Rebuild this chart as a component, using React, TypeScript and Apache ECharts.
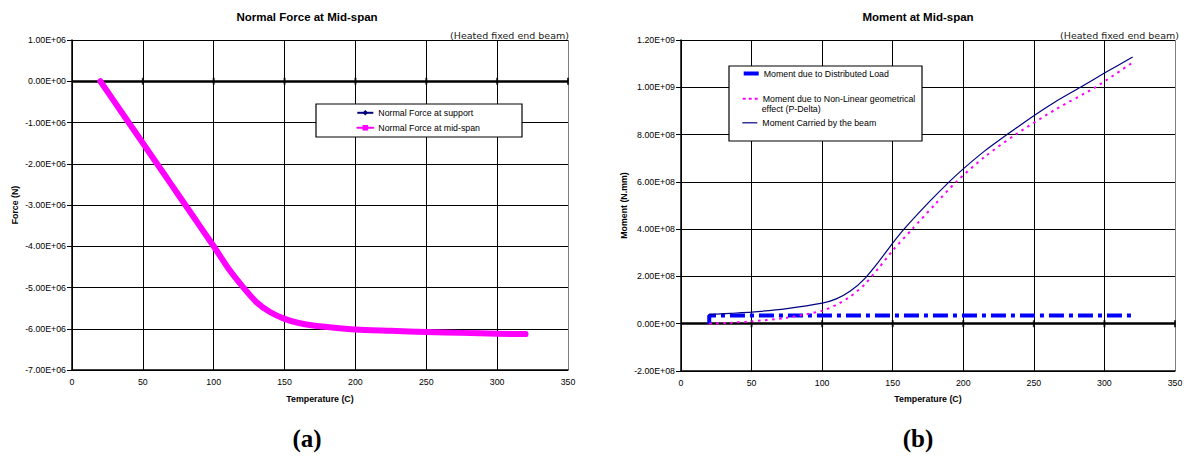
import React, { useEffect, useRef } from 'react';
import * as echarts from 'echarts';

const FONT = '"Liberation Sans", Arial, sans-serif';

// ---- axes ----
const tempAxis = { min: 0, max: 350, interval: 50 };
const forceAxis = { min: -7e6, max: 1e6, interval: 1e6 };
const momentAxis = { min: -2e8, max: 1.2e9, interval: 2e8 };
const zeroLineTicks = [50, 100, 150, 200, 250, 300, 350];

// ---- chart (a): Normal force ----
const SUP = 'Normal Force at support';
const MID = 'Normal Force at mid-span';
const forceTemps = [20, 30, 40, 50, 60, 70, 80, 90, 100, 110, 120, 130, 140, 150, 160, 170, 180, 200, 225, 250, 275, 300, 320];
const forceMidSpan = [0, -0.5e6, -1.0e6, -1.5e6, -2.0e6, -2.5e6, -3.0e6, -3.5e6, -4.0e6, -4.52e6, -4.96e6, -5.35e6, -5.6e6, -5.76e6, -5.86e6, -5.92e6, -5.96e6, -6.02e6, -6.05e6, -6.08e6, -6.1e6, -6.12e6, -6.13e6];
const forceSupport = [0, -0.5e6, -1.0e6, -1.5e6, -2.0e6, -2.5e6, -3.0e6, -3.5e6, -4.0e6, -4.52e6, -4.96e6, -5.35e6, -5.6e6, -5.76e6, -5.86e6, -5.92e6, -5.96e6, -6.02e6, -6.05e6, -6.08e6, -6.1e6, -6.12e6, -6.13e6];

// ---- chart (b): Moment ----
const DIST = 'Moment due to Distributed Load';
const PD = 'Moment due to Non-Linear geometrical effect (P-Delta)';
const BEAM = 'Moment Carried by the beam';
const distTemps = [20, 20, 320];
const distMoment = [0, 3.5e7, 3.5e7];
const pdTemps = [20, 35, 50, 75, 100, 110, 120, 130, 140, 150, 163.8, 180, 195, 215, 237, 265, 293.5, 320];
const pdMoment = [0, 0.04e8, 0.1e8, 0.25e8, 0.55e8, 0.8e8, 1.15e8, 1.65e8, 2.35e8, 3.1e8, 4.0e8, 5.05e8, 6.0e8, 7.05e8, 8.0e8, 9.05e8, 10.0e8, 11.05e8];
const beamTemps = [20, 35, 50, 75, 100, 110, 120, 130, 140, 150, 158, 175, 190, 200, 215, 231, 250, 265, 283, 300, 320];
const beamMoment = [0.39e8, 0.44e8, 0.49e8, 0.64e8, 0.87e8, 1.05e8, 1.38e8, 1.9e8, 2.62e8, 3.41e8, 4.0e8, 5.1e8, 6.0e8, 6.55e8, 7.3e8, 8.0e8, 8.8e8, 9.38e8, 10.0e8, 10.6e8, 11.28e8];

function sci(v: number): string {
  if (v === 0) return '0.00E+00';
  const e = Math.floor(Math.log10(Math.abs(v)) + 1e-9);
  const m = v / Math.pow(10, e);
  return m.toFixed(2) + 'E' + (e < 0 ? '-' : '+') + String(Math.abs(e)).padStart(2, '0');
}

const zip = (xs: number[], ys: number[]) => xs.map((x, i) => [x, ys[i]]);

export default function App() {
  const ref = useRef<HTMLDivElement>(null);
  useEffect(() => {
    const chart = echarts.init(ref.current!, null, { renderer: 'svg' });
    const lab = { color: '#000', fontSize: 8.8, fontFamily: FONT };
    const boldLab = { ...lab, fontWeight: 'bold' };
    const mkX = (gi: number, gap: number) => ({
      type: 'value', gridIndex: gi, ...tempAxis,
      name: 'Temperature (C)', nameLocation: 'middle', nameGap: gap, nameTextStyle: boldLab,
      axisLine: { show: true, onZero: false, lineStyle: { color: '#000', width: 1.5 } },
      axisTick: { show: false },
      axisLabel: { ...lab, margin: 7 },
      splitLine: { show: true, lineStyle: { color: ['#000', '#000', '#000', '#000', '#000', '#000', '#000', '#808080'], width: 1 } },
    });
    const mkY = (gi: number, ax: any, name: string) => ({
      type: 'value', gridIndex: gi, ...ax,
      name, nameLocation: 'middle', nameGap: 53, nameTextStyle: boldLab,
      axisLine: { show: true, onZero: false, lineStyle: { color: '#000', width: 1.5 } },
      axisTick: { show: true, length: 5, lineStyle: { color: '#000', width: 1 } },
      axisLabel: { ...lab, margin: 6, formatter: sci },
      splitLine: { show: true, lineStyle: { color: '#000', width: 1 } },
    });
    const zeroSeries = (gi: number) => ({
      type: 'scatter', name: 'zero' + gi, xAxisIndex: gi, yAxisIndex: gi,
      data: zeroLineTicks.map((x) => [x, 0]), symbol: 'rect', symbolSize: [2, 7],
      itemStyle: { color: '#000' }, silent: true, z: 1,
      markLine: {
        silent: true, symbol: ['none', 'none'], label: { show: false }, z: 1,
        lineStyle: { color: '#000', width: 2.5, type: 'solid' },
        data: [{ yAxis: 0 }],
      },
    });
    const legTxt = { ...lab };
    const option: any = {
      animation: false,
      backgroundColor: '#fff',
      grid: [
        { left: 72, top: 40, width: 496, height: 330, show: false },
        { left: 681, top: 40, width: 494, height: 331, show: false },
      ],
      xAxis: [mkX(0, 24), mkX(1, 23)],
      yAxis: [mkY(0, forceAxis, 'Force (N)'), mkY(1, momentAxis, 'Moment (N.mm)')],
      legend: [
        {
          data: [{ name: SUP }, { name: MID }], left: 356.3, top: 108.3, orient: 'vertical',
          itemGap: 6, itemWidth: 16, itemHeight: 7, padding: 0, textStyle: legTxt, selectedMode: false, z: 8,
        },
        {
          data: [{ name: DIST, itemStyle: { opacity: 0 }, lineStyle: { color: '#0000ff', width: 4, type: 'solid' } }],
          left: 741.7, top: 69, itemWidth: 15, itemHeight: 10,
          padding: 0, textStyle: legTxt, selectedMode: false, z: 8,
        },
        {
          data: [{ name: PD, itemStyle: { opacity: 0 }, lineStyle: { color: '#ff00ff', width: 2, type: [3, 3] } }],
          left: 741.7, top: 94.3, itemWidth: 15, itemHeight: 10,
          padding: 0, textStyle: legTxt, selectedMode: false, z: 8,
          formatter: () => 'Moment due to Non-Linear geometrical',
        },
        {
          data: [{ name: BEAM, itemStyle: { opacity: 0 }, lineStyle: { color: '#000080', width: 1.2, type: 'solid' } }],
          left: 741.7, top: 118.3, itemWidth: 15, itemHeight: 10,
          padding: 0, textStyle: legTxt, selectedMode: false, z: 8,
        },
      ],
      series: [
        zeroSeries(0),
        {
          type: 'line', name: SUP, xAxisIndex: 0, yAxisIndex: 0, data: zip(forceTemps, forceSupport),
          symbol: 'diamond', symbolSize: 5, showSymbol: false, smooth: 0.25,
          itemStyle: { color: '#000080' }, lineStyle: { color: '#000080', width: 1 }, z: 2,
        },
        {
          type: 'line', name: MID, xAxisIndex: 0, yAxisIndex: 0, data: zip(forceTemps, forceMidSpan),
          symbol: 'rect', symbolSize: 5, showSymbol: false, smooth: 0.25,
          itemStyle: { color: '#ff00ff' }, lineStyle: { color: '#ff00ff', width: 6, cap: 'round', join: 'round' }, z: 3,
        },
        zeroSeries(1),
        {
          type: 'line', name: DIST, xAxisIndex: 1, yAxisIndex: 1, data: zip(distTemps, distMoment),
          symbol: 'none', itemStyle: { color: '#0000ff' },
          lineStyle: { color: '#0000ff', width: 4, type: [15, 5, 4, 5] }, z: 3,
        },
        {
          type: 'line', name: PD, xAxisIndex: 1, yAxisIndex: 1, data: zip(pdTemps, pdMoment),
          symbol: 'none', smooth: 0.25, itemStyle: { color: '#ff00ff' },
          lineStyle: { color: '#ff00ff', width: 2, type: [2.5, 4.5] }, z: 3,
        },
        {
          type: 'line', name: BEAM, xAxisIndex: 1, yAxisIndex: 1, data: zip(beamTemps, beamMoment),
          symbol: 'none', smooth: 0.25, itemStyle: { color: '#000080' },
          lineStyle: { color: '#000080', width: 1.2 }, z: 4,
        },
      ],
      graphic: [
        { type: 'rect', z: 5, shape: { x: 316, y: 104, width: 206, height: 33 }, style: { fill: '#fff', stroke: '#000', lineWidth: 1.2 } },
        { type: 'rect', z: 5, shape: { x: 729, y: 66, width: 193, height: 75 }, style: { fill: '#fff', stroke: '#000', lineWidth: 1.2 } },
        { type: 'text', z: 9, x: 761.7, y: 109.3, style: { text: 'effect (P-Delta)', fill: '#000', fontSize: 8.8, fontFamily: FONT, align: 'left', verticalAlign: 'middle' } },
        { type: 'text', z: 9, x: 307, y: 17, style: { text: 'Normal Force at Mid-span', fill: '#000', fontSize: 11.5, fontWeight: 'bold', fontFamily: FONT, align: 'center', verticalAlign: 'middle' } },
        { type: 'text', z: 9, x: 918, y: 17, style: { text: 'Moment at Mid-span', fill: '#000', fontSize: 11.5, fontWeight: 'bold', fontFamily: FONT, align: 'center', verticalAlign: 'middle' } },
        { type: 'text', z: 9, x: 569, y: 35, style: { text: '(Heated fixed end beam)', fill: '#222', fontSize: 9.5, fontFamily: '"DejaVu Sans", sans-serif', align: 'right', verticalAlign: 'middle' } },
        { type: 'text', z: 9, x: 1179, y: 35, style: { text: '(Heated fixed end beam)', fill: '#222', fontSize: 9.5, fontFamily: '"DejaVu Sans", sans-serif', align: 'right', verticalAlign: 'middle' } },
        { type: 'text', z: 9, x: 307, y: 438, style: { text: '(a)', fill: '#000', fontSize: 25, fontWeight: 'bold', fontFamily: '"Liberation Serif", "Times New Roman", serif', align: 'center', verticalAlign: 'middle' } },
        { type: 'text', z: 9, x: 918, y: 438, style: { text: '(b)', fill: '#000', fontSize: 25, fontWeight: 'bold', fontFamily: '"Liberation Serif", "Times New Roman", serif', align: 'center', verticalAlign: 'middle' } },
      ],
    };
    chart.setOption(option);
    return () => chart.dispose();
  }, []);
  return <div ref={ref} style={{ position: 'absolute', left: 0, top: 0, width: 1186, height: 458 }} />;
}
